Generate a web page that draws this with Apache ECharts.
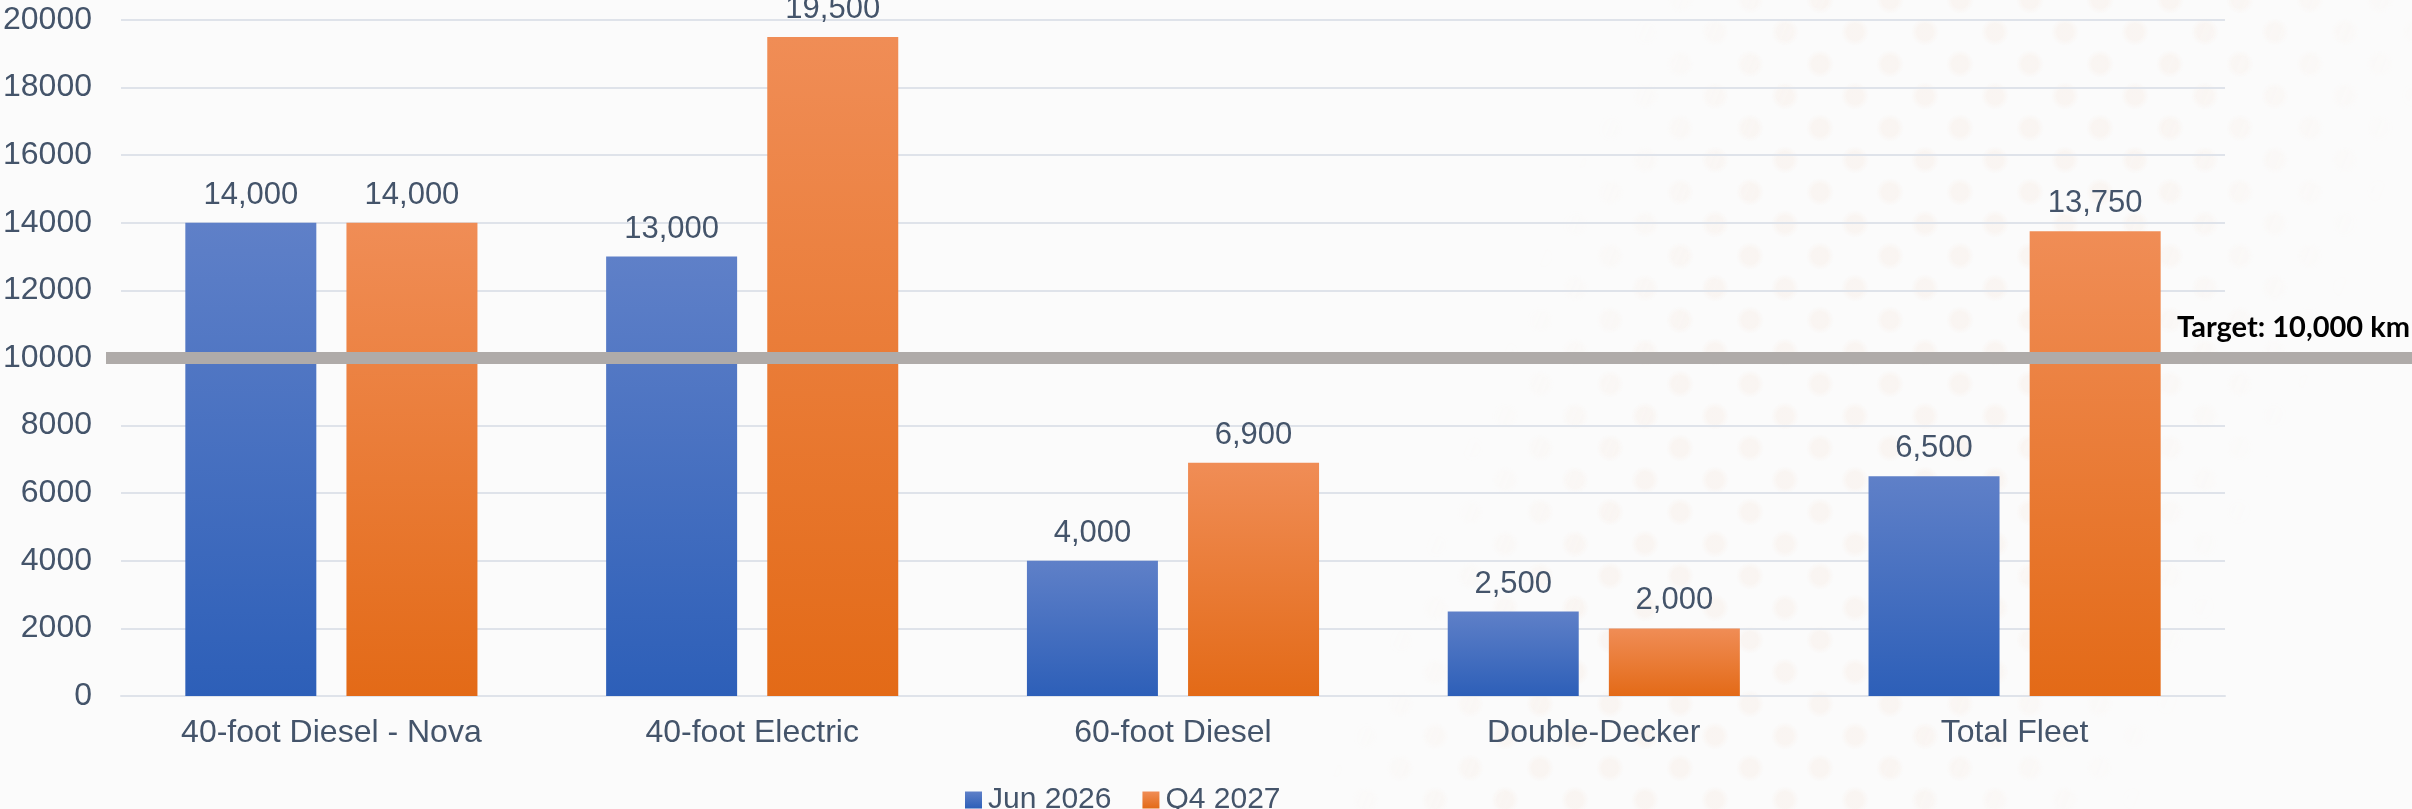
<!DOCTYPE html>
<html>
<head>
<meta charset="utf-8">
<script src="https://cdn.jsdelivr.net/npm/echarts@6/dist/echarts.min.js"></script>
<style>
  html, body { margin: 0; padding: 0; background: #fbfbfb; }
  #wrap { position: relative; width: 2412px; height: 809px; overflow: hidden; }
  /* faint dotted decoration behind the plot */
  #dots {
    position: absolute; inset: 0;
    background-image:
      radial-gradient(circle, rgba(240,200,172,0.11) 0 8px, rgba(240,200,172,0) 14px),
      radial-gradient(circle, rgba(240,200,172,0.11) 0 8px, rgba(240,200,172,0) 14px);
    background-size: 70px 64px, 70px 64px;
    background-position: 0 0, 35px 32px;
    -webkit-mask-image: linear-gradient(112deg, transparent 60%, #000 67%, #000 80%, transparent 90%);
    mask-image: linear-gradient(112deg, transparent 60%, #000 67%, #000 80%, transparent 90%);
  }
  #chart { position: absolute; inset: 0; }
</style>
</head>
<body>
<div id="wrap">
  <div id="dots"></div>
  <div id="chart"></div>
</div>
<script>
const categories = ['40-foot Diesel - Nova', '40-foot Electric', '60-foot Diesel', 'Double-Decker', 'Total Fleet'];
const seriesNames = ['Jun 2026', 'Q4 2027'];
const jun2026 = [14000, 13000, 4000, 2500, 6500];
const q42027 = [14000, 19500, 6900, 2000, 13750];
const targetKm = 10000;
const targetLabel = 'Target: 10,000 km';
const yTicks = { min: 0, max: 20000, interval: 2000 };

const textColor = '#44546A';
const fontFamily = '"Liberation Sans", Arial, sans-serif';

function grad(top, bottom) {
  return new echarts.graphic.LinearGradient(0, 0, 0, 1, [
    { offset: 0, color: top },
    { offset: 1, color: bottom }
  ]);
}

const fmt = v => Number(v).toLocaleString('en-US');

const chart = echarts.init(document.getElementById('chart'), null, { renderer: 'canvas' });

const labelStyle = {
  show: true,
  position: 'top',
  distance: 12,
  fontSize: 31,
  color: textColor,
  fontFamily: fontFamily,
  formatter: p => fmt(p.value)
};

chart.setOption({
  backgroundColor: 'transparent',
  animation: false,
  grid: { left: 118, right: 187, top: 20, bottom: 113, containLabel: false },
  legend: {
    data: seriesNames,
    left: 960,
    top: 780,
    itemWidth: 17,
    itemHeight: 17,
    itemGap: 31,
    icon: 'rect',
    textStyle: { fontSize: 30, color: textColor, fontFamily: fontFamily, padding: [0, 0, 0, 1] }
  },
  xAxis: {
    type: 'category',
    data: categories,
    axisLine: { show: true, lineStyle: { color: '#dfe3ea', width: 2 } },
    axisTick: { show: false },
    axisLabel: { fontSize: 32, color: textColor, fontFamily: fontFamily, margin: 21 }
  },
  yAxis: {
    type: 'value',
    min: yTicks.min,
    max: yTicks.max,
    interval: yTicks.interval,
    axisLine: { show: false },
    axisTick: { show: false },
    axisLabel: { fontSize: 32, color: textColor, fontFamily: fontFamily, margin: 29, formatter: v => String(v) },
    splitLine: { lineStyle: { color: '#dfe3ea', width: 2 } }
  },
  series: [
    {
      name: seriesNames[0],
      type: 'bar',
      data: jun2026,
      barWidth: 131,
      barGap: '23%',
      itemStyle: { color: grad('#5f80c8', '#2d5fb8') },
      label: labelStyle
    },
    {
      name: seriesNames[1],
      type: 'bar',
      data: q42027,
      barWidth: 131,
      barGap: '23%',
      itemStyle: { color: grad('#f08d56', '#e36a17') },
      label: labelStyle
    }
  ]
});

// target line spanning to the right edge, placed through the value axis
function drawTarget() {
  const y = chart.convertToPixel({ yAxisIndex: 0 }, targetKm);
  const w = chart.getWidth();
  chart.setOption({
    graphic: [
      {
        type: 'rect',
        id: 'targetLine',
        z: 10,
        shape: { x: 106, y: y - 6, width: w - 106, height: 12 },
        style: { fill: '#afaba9' }
      },
      {
        type: 'text',
        id: 'targetText',
        z: 11,
        x: 2177,
        y: y - 30,
        style: {
          text: targetLabel,
          fill: '#000000',
          font: 'bold 29px Lato, "Open Sans", sans-serif',
          verticalAlign: 'middle',
          align: 'left'
        }
      }
    ]
  });
}
drawTarget();
</script>
</body>
</html>
